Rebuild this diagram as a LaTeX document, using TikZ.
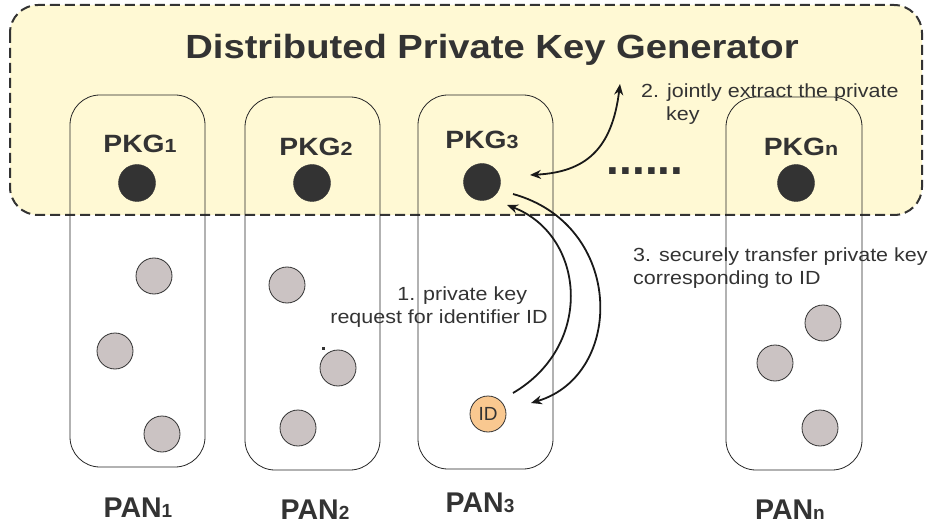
\documentclass[tikz,border=0pt]{standalone}
\usepackage{fontspec}
\setmainfont{Liberation Sans}
\usetikzlibrary{arrows.meta,calc}
\definecolor{ink}{HTML}{333333}
\definecolor{cream}{HTML}{FFF9D4}
\definecolor{hostgray}{HTML}{CBC3C3}
\definecolor{idorange}{HTML}{F9C890}
\newcommand{\subidx}[1]{{\fontsize{19}{19}\selectfont #1}}
\tikzset{
  region/.style={draw=ink, line width=2pt, dash pattern=on 10pt off 5pt, rounded corners=28pt, fill=cream},
  panbox/.style={draw=black!85, line width=0.8pt, rounded corners=30pt},
  pkgdot/.style={circle, fill=ink, draw=ink, minimum size=37pt, inner sep=0pt},
  host/.style={circle, fill=hostgray, draw=ink, line width=0.8pt, minimum size=36pt, inner sep=0pt},
  idnode/.style={circle, fill=idorange, draw=ink, line width=0.8pt, minimum size=36pt, inner sep=0pt, text=ink, font=\fontsize{19}{19}\selectfont},
  title/.style={text=ink, font=\fontsize{33.5}{34}\selectfont\bfseries, xscale=1.14},
  lbl/.style={text=ink, font=\fontsize{25}{25}\selectfont\bfseries, inner sep=0pt, xscale=1.13},
  panlbl/.style={text=ink, font=\fontsize{28.5}{29}\selectfont\bfseries, inner sep=0pt},
  note/.style={text=ink, font=\fontsize{19}{23.5}\selectfont, inner sep=0pt, xscale=1.13},
  flow/.style={draw=black!90, line width=1.8pt, -{Stealth[length=11pt,width=9pt]}},
  flowboth/.style={draw=black!90, line width=1.8pt, {Stealth[length=11pt,width=9pt]}-{Stealth[length=11pt,width=9pt]}},
}
\begin{document}
\begin{tikzpicture}[x=1pt,y=-1pt]
\useasboundingbox (0,0) rectangle (931,529);

% the distributed generator region
\path[region] (10,5) rectangle (922,215);
\node[title] (dpkg) at (492,50) {Distributed Private Key Generator};

% personal area networks
\draw[panbox] (70,95) rectangle (205,467);
\draw[panbox] (245,97) rectangle (380,470);
\draw[panbox] (418,95) rectangle (553,469);
\draw[panbox] (726,97) rectangle (862,470);

% PKG labels and PKG nodes
\node[lbl] (pkg1lbl) at (140,144) {PKG\subidx{1}};
\node[lbl] (pkg2lbl) at (316,147) {PKG\subidx{2}};
\node[lbl] (pkg3lbl) at (482,140) {PKG\subidx{3}};
\node[lbl] (pkgnlbl) at (801,147) {PKG\subidx{n}};
\node[pkgdot] (pkg1) at (137,183) {};
\node[pkgdot] (pkg2) at (312,183) {};
\node[pkgdot] (pkg3) at (482,182) {};
\node[pkgdot] (pkgn) at (796,183) {};
\node[text=ink, font=\fontsize{46}{46}\selectfont\bfseries, inner sep=0pt] (ellip) at (645,171) {......};

% hosts inside each PAN
\node[host] (h11) at (154,276) {};
\node[host] (h12) at (115,351) {};
\node[host] (h13) at (162,434) {};
\node[host] (h21) at (287,285) {};
\node[host] (h22) at (338,368) {};
\node[host] (h23) at (298,428) {};
\node[host] (hn1) at (823,323) {};
\node[host] (hn2) at (775,363) {};
\node[host] (hn3) at (820,428) {};
\fill[ink] (322,347) rectangle (325,350);
\node[idnode] (id) at (488,414) {ID};

% PAN labels
\node[panlbl] (pan1) at (138,508) {PAN\subidx{1}};
\node[panlbl] (pan2) at (315,510) {PAN\subidx{2}};
\node[panlbl] (pan3) at (480,503) {PAN\subidx{3}};
\node[panlbl] (pann) at (790,510) {PAN\subidx{n}};

% protocol steps
\coordinate (jointend) at (620,84);
\draw[flowboth] (jointend) .. controls (612,150) and (585,172) .. ([shift={(48,-7)}]pkg3.center);
\draw[flow] ([shift={(25,-21)}]id.center) .. controls (595,345) and (585,235) .. ([shift={(25,23)}]pkg3.center);
\draw[flow] ([shift={(31,12)}]pkg3.center) .. controls (625,225) and (625,375) .. ([shift={(43,-11)}]id.center);

\node[note, anchor=west, align=left] (step2) at (641,104) {2. jointly extract the private\\\hspace*{22pt}key};
\node[note, anchor=west, align=left] (step3) at (633,268) {3. securely transfer private key\\corresponding to ID};
\node[note, align=center] (step1) at (439,307) {\hspace*{41pt}1. private key\\request for identifier ID};
\end{tikzpicture}
\end{document}
